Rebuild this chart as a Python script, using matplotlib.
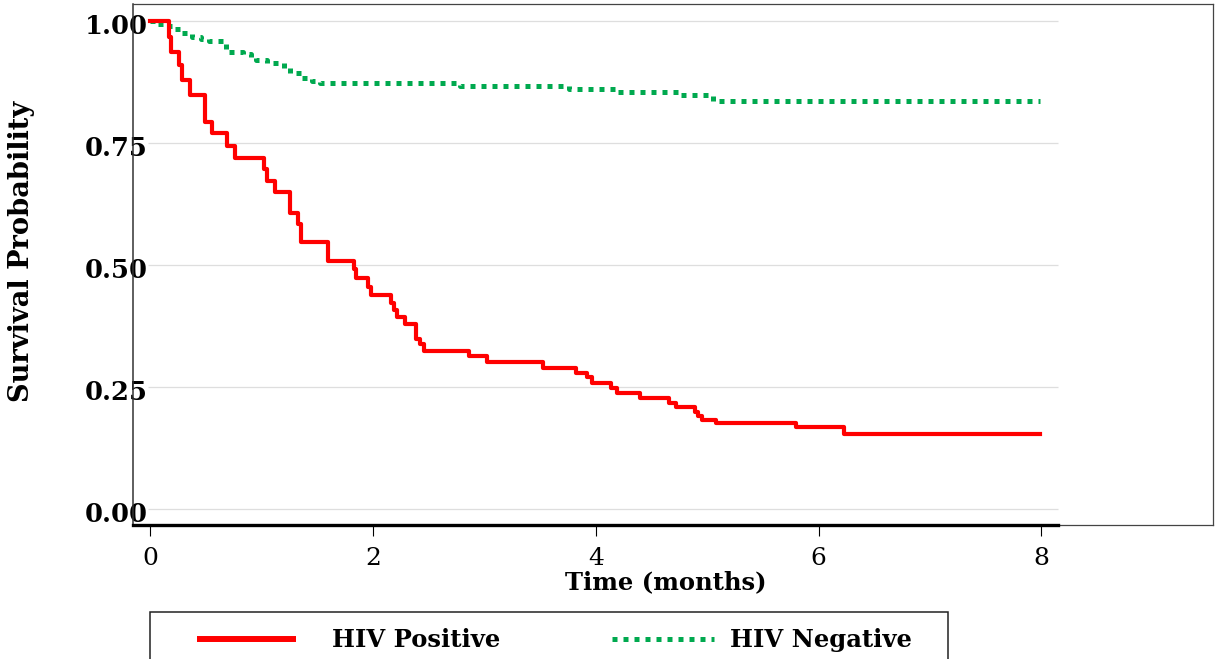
import matplotlib.pyplot as plt
from matplotlib.lines import Line2D
from matplotlib.patches import Rectangle
from matplotlib.transforms import ScaledTranslation

# Kaplan-Meier step data
time_pos = [0, 0.165, 0.186, 0.258, 0.282, 0.357, 0.49, 0.551, 0.686, 0.761,
            1.016, 1.046, 1.121, 1.256, 1.324, 1.351, 1.591, 1.825, 1.846, 1.951,
            1.984, 2.163, 2.19, 2.214, 2.289, 2.385, 2.424, 2.454, 2.858, 3.023,
            3.524, 3.817, 3.92, 3.965, 4.132, 4.186, 4.392, 4.656, 4.716, 4.89,
            4.92, 4.956, 5.08, 5.795, 6.229, 7.99]
surv_pos = [1.0, 0.968, 0.937, 0.910, 0.879, 0.848, 0.794, 0.770, 0.744, 0.720,
            0.696, 0.673, 0.649, 0.607, 0.585, 0.5465, 0.509, 0.491, 0.473, 0.4556,
            0.4385, 0.4215, 0.408, 0.393, 0.379, 0.348, 0.338, 0.3245, 0.3135, 0.301,
            0.2896, 0.2793, 0.27, 0.2576, 0.247, 0.237, 0.227, 0.2175, 0.2084, 0.199,
            0.1906, 0.1824, 0.1755, 0.1687, 0.154, 0.154]

time_neg = [0, 0.06, 0.12, 0.2, 0.28, 0.37, 0.45, 0.53, 0.65, 0.68, 0.83, 0.9,
            0.95, 1.05, 1.2, 1.25, 1.35, 1.45, 1.52, 2.78, 3.754, 4.19, 4.76, 5.05, 7.99]
surv_neg = [1.0, 0.994, 0.990, 0.984, 0.976, 0.968, 0.9625, 0.959, 0.954, 0.937,
            0.932, 0.927, 0.920, 0.913, 0.903, 0.893, 0.884, 0.878, 0.8736, 0.8668,
            0.8607, 0.8545, 0.8484, 0.836, 0.836]

y_ticks = [0, 0.25, 0.5, 0.75, 1.0]
y_labels = ['0.00', '0.25', '0.50', '0.75', '1.00']
x_ticks = [0, 2, 4, 6, 8]
group_names = ['HIV Positive', 'HIV Negative']

RED = '#ff0000'
GREEN = '#00a94f'
W, H = 1215, 659

plt.rcParams['font.family'] = ['DejaVu Serif']

fig = plt.figure(figsize=(W / 100, H / 100), dpi=100)
ax = fig.add_axes([133 / W, 1 - 525 / H, (1213 - 133) / W, (525 - 4) / H])
ax.set_xlim(-0.156, 9.54)
ax.set_ylim(-0.0328, 1.0348)

ax.hlines(y_ticks, -0.02, 8.147, color='#dedede', lw=0.9, zorder=0)

ax.step(time_pos, surv_pos, where='post', color=RED, lw=3.0, zorder=3)
ax.step(time_neg, surv_neg, where='post', color=GREEN, lw=3.6,
        linestyle=(0, (1, 1.2)), dash_capstyle='butt', zorder=2)

for side in ['top', 'right']:
    ax.spines[side].set_color('#444444')
    ax.spines[side].set_linewidth(0.9)
ax.spines['left'].set_color('#333333')
ax.spines['left'].set_linewidth(1.1)
ax.spines['bottom'].set_bounds(-0.156, 8.147)
ax.spines['bottom'].set_linewidth(2.4)
ax.plot([8.147, 9.54], [-0.0328, -0.0328], color='#444444', lw=0.9,
        clip_on=False, zorder=1)

ax.set_yticks(y_ticks)
ax.set_yticklabels(y_labels, fontweight='bold', fontsize=18.5)
ax.tick_params(axis='y', length=0, pad=-10.8)
shift = ScaledTranslation(0, -3 / 100, fig.dpi_scale_trans)
for lab in ax.get_yticklabels():
    lab.set_transform(lab.get_transform() + shift)

ax.set_xticks(x_ticks)
ax.tick_params(axis='x', length=7.9, width=0.8, pad=8, labelsize=18)

fig.text(22 / W, 1 - 251 / H, 'Survival Probability', rotation=90,
         fontsize=19.6, fontweight='bold', ha='center', va='center')
fig.text(666 / W, 1 - 582 / H, 'Time (months)', fontsize=17.5,
         fontweight='bold', ha='center', va='center')

# legend box (runs off the bottom edge as in the reference)
fig.add_artist(Rectangle((150 / W, 1 - 700 / H), (948 - 150) / W, (700 - 612) / H,
                         transform=fig.transFigure, fill=False,
                         edgecolor='#222222', lw=1.1))
fig.add_artist(Line2D([197 / W, 296 / W], [1 - 639 / H] * 2, transform=fig.transFigure,
                      color=RED, lw=4.3, solid_capstyle='butt'))
fig.add_artist(Line2D([612 / W, 714 / W], [1 - 639 / H] * 2, transform=fig.transFigure,
                      color=GREEN, lw=3.6, linestyle=(0, (1, 1.2)),
                      dash_capstyle='butt'))
fig.text(332 / W, 1 - 640 / H, group_names[0], fontsize=17.5, fontweight='bold',
         ha='left', va='center')
fig.text(730 / W, 1 - 640 / H, group_names[1], fontsize=17.5, fontweight='bold',
         ha='left', va='center')

fig.savefig('out.png', dpi=100)
